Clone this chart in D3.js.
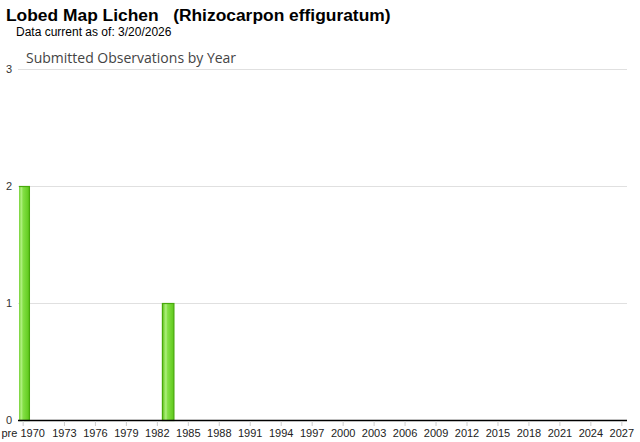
<!DOCTYPE html>
<html><head><meta charset="utf-8">
<script src="https://cdn.jsdelivr.net/npm/d3@7"></script>
<style>body{margin:0;background:#fff}svg{display:block}</style>
</head><body>
<script>
const categories = ["pre 1970"].concat(d3.range(1970, 2028).map(String));
const counts = {"pre 1970": 2, "1983": 1};
const values = categories.map(c => counts[c] || 0);
const yTicks = [0, 1, 2, 3];
const tickLabels = categories.filter((c, i) => i === 0 || (i > 1 && (+c - 1970) % 3 === 0));

(function () {
const W = 640, H = 442;
const svg = d3.select("body").append("svg").attr("width", W).attr("height", H);
const mLeft = 18, mRight = 627, mTop = 69, mBottom = 420;

const x = d3.scaleBand().domain(categories).range([mLeft, mRight]).padding(0);
const y = d3.scaleLinear().domain([0, 3]).range([mBottom, mTop]);

const defs = svg.append("defs");
const g = defs.append("linearGradient").attr("id", "bg").attr("x1", 0).attr("x2", 1).attr("y1", 0).attr("y2", 0);
[[0, "#5cc416"], [0.3, "#b0f080"], [0.45, "#84e046"], [1, "#5ec81a"]].forEach(s =>
  g.append("stop").attr("offset", s[0]).attr("stop-color", s[1]));
defs.append("clipPath").attr("id", "clip").append("rect")
  .attr("x", mLeft + 1).attr("y", 0).attr("width", mRight - mLeft).attr("height", H);

svg.append("text").attr("x", 6).attr("y", 21).attr("font-family", "Liberation Sans, Arial, sans-serif")
  .attr("font-weight", "bold").attr("font-size", 17.4).attr("fill", "#000")
  .attr("xml:space", "preserve").style("white-space", "pre")
  .text("Lobed Map Lichen   (Rhizocarpon effiguratum)");
svg.append("text").attr("x", 16).attr("y", 36).attr("font-family", "Liberation Sans, Arial, sans-serif")
  .attr("font-size", 12).attr("fill", "#000").text("Data current as of: 3/20/2026");
svg.append("text").attr("x", 26).attr("y", 63).attr("font-family", "Open Sans, sans-serif")
  .attr("font-size", 14).attr("fill", "#444").text("Submitted Observations by Year");

// gridlines
svg.append("g").selectAll("line").data(yTicks.filter(d => d > 0)).join("line")
  .attr("x1", mLeft).attr("x2", mRight).attr("y1", d => y(d) + 0.5).attr("y2", d => y(d) + 0.5)
  .attr("stroke", "#e0e0e0").attr("stroke-width", 1);

// y labels
svg.append("g").selectAll("text").data(yTicks).join("text")
  .attr("x", 12).attr("y", d => y(d) + 4).attr("text-anchor", "end")
  .attr("font-family", "Liberation Sans, Arial, sans-serif").attr("font-size", 11).attr("fill", "#333")
  .text(d => d);

// bars
const bw = 11.5;
svg.append("g").attr("clip-path", "url(#clip)").selectAll("rect")
  .data(categories.map((c, i) => ({c, v: values[i]})).filter(d => d.v > 0)).join("rect")
  .attr("x", d => x(d.c) + x.bandwidth() / 2 - bw / 2 + 0.5)
  .attr("y", d => y(d.v) + 0.5)
  .attr("width", bw).attr("height", d => y(0) - y(d.v))
  .attr("fill", "url(#bg)").attr("stroke", "#48a80c").attr("stroke-width", 1.2);

// x axis
const xa = svg.append("g").attr("transform", `translate(0,${mBottom})`);
xa.append("line").attr("x1", mLeft).attr("x2", mRight).attr("y1", 0.5).attr("y2", 0.5)
  .attr("stroke", "#000").attr("stroke-width", 1.6);
xa.selectAll("line.tick").data(tickLabels).join("line").attr("class", "tick")
  .attr("x1", d => x(d) + x.bandwidth() / 2).attr("x2", d => x(d) + x.bandwidth() / 2)
  .attr("y1", 1).attr("y2", 6).attr("stroke", "#ccc");
xa.selectAll("text").data(tickLabels).join("text")
  .attr("x", d => x(d) + x.bandwidth() / 2).attr("y", 17).attr("text-anchor", "middle")
  .attr("font-family", "Liberation Sans, Arial, sans-serif").attr("font-size", 11).attr("fill", "#222")
  .text(d => d);
})();
</script>
</body></html>
